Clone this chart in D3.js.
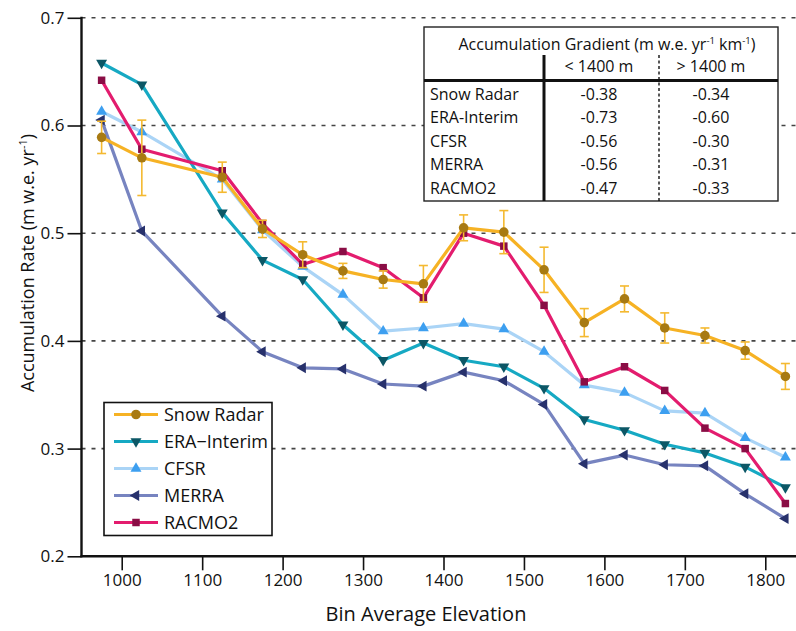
<!DOCTYPE html>
<html>
<head>
<meta charset="utf-8">
<script src="https://cdn.jsdelivr.net/npm/d3@7"></script>
<style>
body { margin: 0; background: #fff; }
text { font-family: "Open Sans", sans-serif; fill: #111; }
</style>
</head>
<body>
<svg id="chart" width="796" height="631"></svg>
<script>
// bin average elevation (m); 1075 bin has no data
const elevations = [975, 1025, 1125, 1175, 1225, 1275, 1325, 1375, 1425, 1475, 1525, 1575, 1625, 1675, 1725, 1775, 1825];

const snowRadar    = [0.589, 0.570, 0.552, 0.504, 0.480, 0.465, 0.457, 0.453, 0.505, 0.501, 0.466, 0.417, 0.439, 0.412, 0.405, 0.391, 0.367];
const snowRadarErr = [0.015, 0.035, 0.014, 0.008, 0.012, 0.007, 0.008, 0.017, 0.012, 0.020, 0.021, 0.013, 0.012, 0.014, 0.007, 0.008, 0.012];
const eraInterim   = [0.658, 0.638, 0.519, 0.475, 0.457, 0.415, 0.382, 0.398, 0.382, 0.376, 0.356, 0.327, 0.317, 0.304, 0.296, 0.283, 0.264];
const cfsr         = [0.613, 0.594, 0.550, 0.503, 0.469, 0.443, 0.409, 0.412, 0.416, 0.411, 0.390, 0.359, 0.352, 0.335, 0.333, 0.310, 0.292];
const merra        = [0.605, 0.502, 0.423, 0.390, 0.375, 0.374, 0.360, 0.358, 0.371, 0.363, 0.341, 0.286, 0.294, 0.285, 0.284, 0.258, 0.235];
const racmo2       = [0.642, 0.578, 0.558, 0.509, 0.471, 0.483, 0.468, 0.440, 0.500, 0.488, 0.433, 0.362, 0.376, 0.354, 0.319, 0.300, 0.249];

const seriesNames = ["Snow Radar", "ERA\u2212Interim", "CFSR", "MERRA", "RACMO2"];

const xTicks = [1000, 1100, 1200, 1300, 1400, 1500, 1600, 1700, 1800];
const yTicks = [0.2, 0.3, 0.4, 0.5, 0.6, 0.7];

// gradient table
const tableRows     = ["Snow Radar", "ERA-Interim", "CFSR", "MERRA", "RACMO2"];
const tableColumns  = ["< 1400 m", "> 1400 m"];
const gradientBelow = ["-0.38", "-0.73", "-0.56", "-0.56", "-0.47"];
const gradientAbove = ["-0.34", "-0.60", "-0.30", "-0.31", "-0.33"];

chart = {

	init: function(){
		const me = chart;

		me.svg = d3.select("#chart");
		me.x = d3.scaleLinear().domain([950, 1850]).range([81.5, 805.5]);
		me.y = d3.scaleLinear().domain([0.2, 0.7]).range([556.3, 17.8]);

		me.series = [
			{ name: seriesNames[0], values: snowRadar,  line: "#f6b224", mark: "#a87a12", shape: d3.symbolCircle,   size: 72, rot: 0 },
			{ name: seriesNames[1], values: eraInterim, line: "#16a9c3", mark: "#0c5766", shape: d3.symbolTriangle, size: 52, rot: 180 },
			{ name: seriesNames[2], values: cfsr,       line: "#aad4f6", mark: "#3d9ff0", shape: d3.symbolTriangle, size: 52, rot: 0 },
			{ name: seriesNames[3], values: merra,      line: "#7784c0", mark: "#27316c", shape: d3.symbolTriangle, size: 52, rot: -90 },
			{ name: seriesNames[4], values: racmo2,     line: "#e31c6e", mark: "#8a0d45", shape: d3.symbolSquare,   size: 56, rot: 0 }
		];

		me.drawGrid();
		me.drawSeries();
		me.drawAxes();
		me.drawLegend();
		me.drawTable();
	},

	drawGrid: function(){
		const me = chart;

		me.svg.append("g")
		  .selectAll("line")
		  .data(yTicks.filter(d => d > 0.2))
		  .join("line")
			.attr("x1", me.x(950))
			.attr("x2", 796)
			.attr("y1", d => me.y(d))
			.attr("y2", d => me.y(d))
			.attr("stroke", "#444")
			.attr("stroke-width", 1.6)
			.attr("stroke-dasharray", "4,6");
	},

	drawSeries: function(){
		const me = chart;

		const line = d3.line()
		  .x((d, i) => me.x(elevations[i]))
		  .y(d => me.y(d));

		// draw back to front, snow radar on top
		const order = [3, 2, 1, 4, 0];
		order.forEach(function(k){
			const s = me.series[k];
			const g = me.svg.append("g");

			g.append("path")
			  .attr("d", line(s.values))
			  .attr("fill", "none")
			  .attr("stroke", s.line)
			  .attr("stroke-width", 3.2)
			  .attr("stroke-linejoin", "round");

			if (k === 0) {
				// error bars
				const eb = g.append("g")
				  .attr("stroke", "#f4b930")
				  .attr("stroke-width", 1.6);
				s.values.forEach(function(v, i){
					const cx = me.x(elevations[i]);
					const y0 = me.y(v - snowRadarErr[i]);
					const y1 = me.y(v + snowRadarErr[i]);
					eb.append("line").attr("x1", cx).attr("x2", cx).attr("y1", y0).attr("y2", y1);
					eb.append("line").attr("x1", cx - 4.5).attr("x2", cx + 4.5).attr("y1", y0).attr("y2", y0);
					eb.append("line").attr("x1", cx - 4.5).attr("x2", cx + 4.5).attr("y1", y1).attr("y2", y1);
				});
			}

			g.selectAll("path.mark")
			  .data(s.values)
			  .join("path")
				.attr("class", "mark")
				.attr("d", d3.symbol(s.shape, s.size))
				.attr("transform", (d, i) => "translate(" + me.x(elevations[i]) + "," + me.y(d) + ") rotate(" + s.rot + ")")
				.attr("fill", s.mark);
		});
	},

	drawAxes: function(){
		const me = chart;

		const yAxis = d3.axisLeft(me.y)
		  .tickValues(yTicks)
		  .tickFormat(d3.format(".1f"))
		  .tickSize(14)
		  .tickPadding(3);

		const yMinor = d3.axisLeft(me.y)
		  .tickValues(d3.range(0.22, 0.7, 0.02).filter(d => Math.abs(d * 10 - Math.round(d * 10)) > 0.01))
		  .tickFormat("")
		  .tickSize(7);

		const xAxis = d3.axisBottom(me.x)
		  .tickValues(xTicks)
		  .tickFormat(d3.format("d"))
		  .tickSize(14)
		  .tickPadding(4);

		const gy = me.svg.append("g").attr("transform", "translate(" + me.x(950) + ",0)");
		gy.call(yMinor);
		gy.call(yAxis);

		const gx = me.svg.append("g").attr("transform", "translate(0," + me.y(0.2) + ")");
		gx.call(xAxis);

		me.svg.selectAll(".domain").remove();
		me.svg.selectAll(".tick line").attr("stroke", "#111").attr("stroke-width", 1.6);
		me.svg.selectAll(".tick text").attr("font-size", 17).attr("font-family", "Open Sans").attr("fill", "#111");

		// axis lines
		me.svg.append("line")
		  .attr("x1", me.x(950)).attr("x2", me.x(950))
		  .attr("y1", me.y(0.7) - 1).attr("y2", me.y(0.2) + 1)
		  .attr("stroke", "#111").attr("stroke-width", 2.4);
		me.svg.append("line")
		  .attr("x1", me.x(950) - 1).attr("x2", 796)
		  .attr("y1", me.y(0.2)).attr("y2", me.y(0.2))
		  .attr("stroke", "#111").attr("stroke-width", 2.4);

		me.svg.append("text")
		  .attr("x", 426)
		  .attr("y", 621)
		  .attr("text-anchor", "middle")
		  .attr("font-size", 20)
		  .text("Bin Average Elevation");

		const yl = me.svg.append("text")
		  .attr("transform", "translate(34,263) rotate(-90)")
		  .attr("text-anchor", "middle")
		  .attr("font-size", 18);
		yl.append("tspan").text("Accumulation Rate (m w.e. yr");
		yl.append("tspan").attr("font-size", 11).attr("dy", -7).text("-1");
		yl.append("tspan").attr("dy", 7).text(")");
	},

	drawLegend: function(){
		const me = chart;

		const lg = me.svg.append("g");
		lg.append("rect")
		  .attr("x", 104).attr("y", 402.5)
		  .attr("width", 168).attr("height", 133)
		  .attr("fill", "#fff")
		  .attr("stroke", "#111")
		  .attr("stroke-width", 1.6);

		me.series.forEach(function(s, i){
			const cy = 414.5 + i * 27;
			lg.append("line")
			  .attr("x1", 114).attr("x2", 158)
			  .attr("y1", cy).attr("y2", cy)
			  .attr("stroke", s.line)
			  .attr("stroke-width", 3.2);
			lg.append("path")
			  .attr("d", d3.symbol(s.shape, s.size))
			  .attr("transform", "translate(136," + cy + ") rotate(" + s.rot + ")")
			  .attr("fill", s.mark);
			lg.append("text")
			  .attr("x", 164)
			  .attr("y", cy + 6.5)
			  .attr("font-size", 18)
			  .text(s.name);
		});
	},

	drawTable: function(){
		const me = chart;

		const left = 424, right = 778, top = 27, bottom = 201;
		const colA = 544, colB = 659;
		const t = me.svg.append("g");

		t.append("rect")
		  .attr("x", left).attr("y", top)
		  .attr("width", right - left).attr("height", bottom - top)
		  .attr("fill", "#fff")
		  .attr("stroke", "#222")
		  .attr("stroke-width", 1.4);

		t.append("line")
		  .attr("x1", left).attr("x2", right)
		  .attr("y1", 80.5).attr("y2", 80.5)
		  .attr("stroke", "#111").attr("stroke-width", 3);
		t.append("line")
		  .attr("x1", colA).attr("x2", colA)
		  .attr("y1", 55).attr("y2", bottom)
		  .attr("stroke", "#111").attr("stroke-width", 3);
		t.append("line")
		  .attr("x1", colB).attr("x2", colB)
		  .attr("y1", 55).attr("y2", bottom)
		  .attr("stroke", "#111").attr("stroke-width", 1.4)
		  .attr("stroke-dasharray", "3,2.5");

		const title = t.append("text")
		  .attr("x", (left + right) / 2 + 6)
		  .attr("y", 50)
		  .attr("text-anchor", "middle")
		  .attr("font-size", 16);
		title.append("tspan").text("Accumulation Gradient (m w.e. yr");
		title.append("tspan").attr("font-size", 9.5).attr("dy", -6).text("-1");
		title.append("tspan").attr("dy", 6).text(" km");
		title.append("tspan").attr("font-size", 9.5).attr("dy", -6).text("-1");
		title.append("tspan").attr("dy", 6).text(")");

		const cA = 599, cB = 711;
		t.selectAll("text.col")
		  .data(tableColumns)
		  .join("text")
			.attr("class", "col")
			.attr("x", (d, i) => i === 0 ? cA : cB)
			.attr("y", 72)
			.attr("text-anchor", "middle")
			.attr("font-size", 16)
			.text(d => d);

		const rowY = d3.scalePoint().domain(tableRows).range([99.5, 194]);

		t.selectAll("text.row")
		  .data(tableRows)
		  .join("text")
			.attr("class", "row")
			.attr("x", 430)
			.attr("y", d => rowY(d))
			.attr("font-size", 16)
			.text(d => d);

		t.selectAll("text.below")
		  .data(gradientBelow)
		  .join("text")
			.attr("class", "below")
			.attr("x", cA)
			.attr("y", (d, i) => rowY(tableRows[i]))
			.attr("text-anchor", "middle")
			.attr("font-size", 16)
			.text(d => d);

		t.selectAll("text.above")
		  .data(gradientAbove)
		  .join("text")
			.attr("class", "above")
			.attr("x", cB)
			.attr("y", (d, i) => rowY(tableRows[i]))
			.attr("text-anchor", "middle")
			.attr("font-size", 16)
			.text(d => d);
	}
}

chart.init();
</script>
</body>
</html>
